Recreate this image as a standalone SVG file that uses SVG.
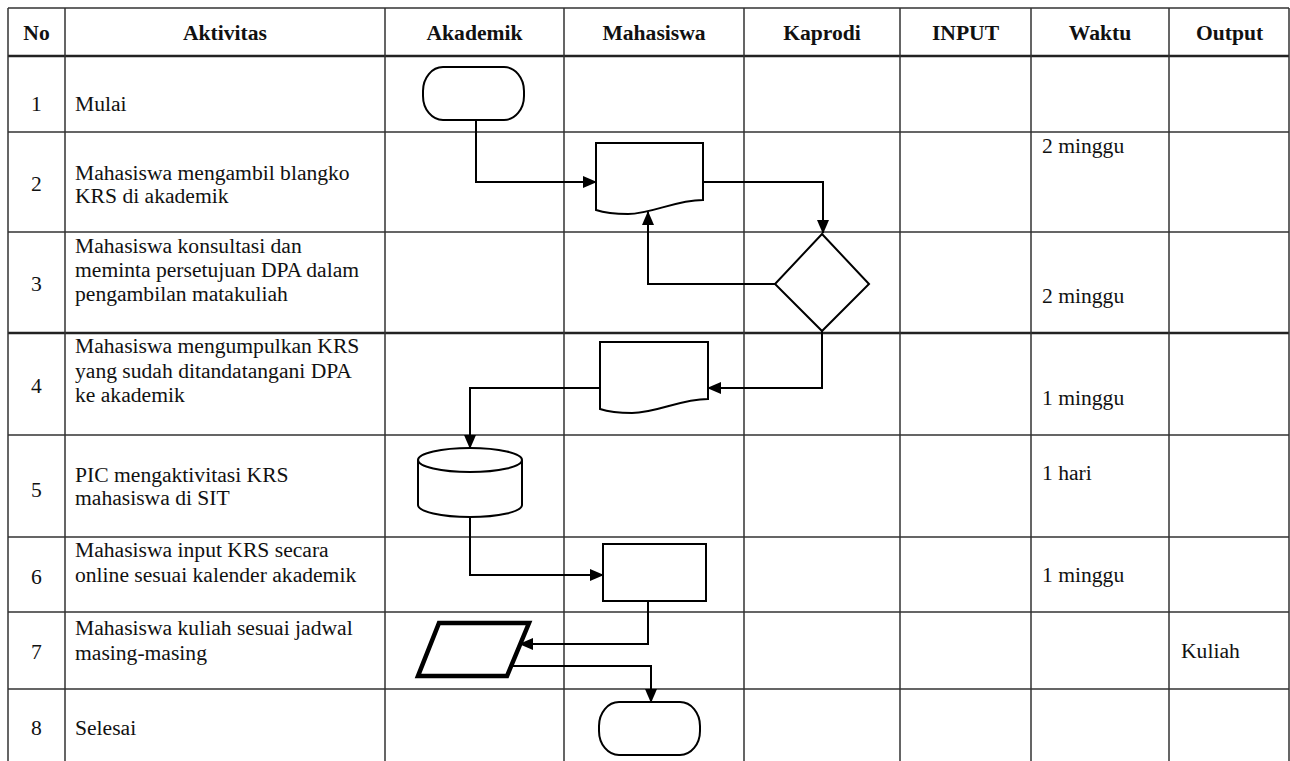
<svg xmlns="http://www.w3.org/2000/svg" width="1290" height="761" viewBox="0 0 1290 761">
<style>
.grid{stroke:#333;stroke-width:1.5;fill:none}
.thick{stroke:#222;stroke-width:2.6;fill:none}
.shape{fill:#fff;stroke:#000;stroke-width:2}
.bold{fill:#fff;stroke:#000;stroke-width:4.5;stroke-linejoin:miter}
.conn{fill:none;stroke:#000;stroke-width:2}
.t{font-family:'Liberation Serif',serif;font-size:21.6px;fill:#111}
.hd{font-weight:bold;text-anchor:middle}
.num{text-anchor:middle}
</style>
<defs>
<marker id="arr" markerUnits="userSpaceOnUse" markerWidth="14" markerHeight="12" refX="13" refY="6" orient="auto">
<path d="M0,0 L14,6 L0,12 Z" fill="#000"/>
</marker>
</defs>
<rect width="1290" height="761" fill="#fff"/>
<g id="table">
<path class="grid" d="M8,8 H1289 M8,132 H1289 M8,232 H1289 M8,435 H1289 M8,537 H1289 M8,612 H1289 M8,689 H1289"/>
<path class="thick" d="M8,56 H1289 M8,333 H1289"/>
<path class="grid" d="M8,8 V761 M65,8 V761 M385,8 V761 M564,8 V761 M744,8 V761 M900,8 V761 M1031,8 V761 M1169,8 V761 M1289,8 V761"/>
</g>
<g id="header" class="t" font-family="Liberation Serif, serif">
<text class="hd" x="36.5" y="40">No</text>
<text class="hd" x="225" y="40">Aktivitas</text>
<text class="hd" x="474.5" y="40">Akademik</text>
<text class="hd" x="654" y="40">Mahasiswa</text>
<text class="hd" x="822" y="40">Kaprodi</text>
<text class="hd" x="965.5" y="40">INPUT</text>
<text class="hd" x="1100" y="40">Waktu</text>
<text class="hd" x="1229.5" y="40">Output</text>
</g>
<g id="rows" class="t" font-family="Liberation Serif, serif">
<text class="num" x="36.5" y="111">1</text>
<text x="75" y="111">Mulai</text>
<text class="num" x="36.5" y="191">2</text>
<text x="75" y="180">Mahasiswa mengambil blangko</text>
<text x="75" y="203">KRS di akademik</text>
<text class="num" x="36.5" y="291">3</text>
<text x="75" y="253">Mahasiswa konsultasi dan</text>
<text x="75" y="277">meminta persetujuan DPA dalam</text>
<text x="75" y="301">pengambilan matakuliah</text>
<text class="num" x="36.5" y="393">4</text>
<text x="75" y="353">Mahasiswa mengumpulkan KRS</text>
<text x="75" y="378">yang sudah ditandatangani DPA</text>
<text x="75" y="402">ke akademik</text>
<text class="num" x="36.5" y="497">5</text>
<text x="75" y="482">PIC mengaktivitasi KRS</text>
<text x="75" y="505">mahasiswa di SIT</text>
<text class="num" x="36.5" y="584">6</text>
<text x="75" y="557">Mahasiswa input KRS secara</text>
<text x="75" y="582">online sesuai kalender akademik</text>
<text class="num" x="36.5" y="659">7</text>
<text x="75" y="635">Mahasiswa kuliah sesuai jadwal</text>
<text x="75" y="660">masing-masing</text>
<text class="num" x="36.5" y="735">8</text>
<text x="75" y="735">Selesai</text>
<text x="1042" y="153">2 minggu</text>
<text x="1042" y="303">2 minggu</text>
<text x="1042" y="405">1 minggu</text>
<text x="1042" y="480">1 hari</text>
<text x="1042" y="582">1 minggu</text>
<text x="1181" y="658">Kuliah</text>
</g>
<g id="connectors">
<path class="conn" d="M476,120 V182 H596" marker-end="url(#arr)"/>
<path class="conn" d="M703,182 H823 V233" marker-end="url(#arr)"/>
<path class="conn" d="M775,284 H648 V212" marker-end="url(#arr)"/>
<path class="conn" d="M822,331 V388 H708" marker-end="url(#arr)"/>
<path class="conn" d="M600,388 H470 V448" marker-end="url(#arr)"/>
<path class="conn" d="M470,517 V575 H603" marker-end="url(#arr)"/>
<path class="conn" d="M648,601 V644 H520" marker-end="url(#arr)"/>
<path class="conn" d="M511,666 H651 V702" marker-end="url(#arr)"/>
</g>
<g id="start">
<rect class="shape" x="423" y="67" width="101" height="53" rx="20" ry="24"/>
</g>
<g id="doc1">
<path class="shape" d="M596,143 H703 V200 C675,200 652,214 628,214 C612,214 602,212 596,210 Z"/>
</g>
<g id="decision">
<path class="shape" d="M822,234 L869,284 L822,331 L775,284 Z"/>
</g>
<g id="doc2">
<path class="shape" d="M600,342 H708 V399 C680,399 657,413 632,413 C616,413 606,411 600,409 Z"/>
</g>
<g id="database">
<path class="shape" d="M418,460 V505 A52,12 0 0 0 522,505 V460"/>
<ellipse class="shape" cx="470" cy="460" rx="52" ry="12"/>
</g>
<g id="process">
<rect class="shape" x="603" y="544" width="103" height="57"/>
</g>
<g id="io">
<path class="bold" d="M439,623 H529 L507,676 H418 Z"/>
</g>
<g id="end">
<rect class="shape" x="599" y="702" width="101" height="53" rx="20" ry="24"/>
</g>
</svg>
